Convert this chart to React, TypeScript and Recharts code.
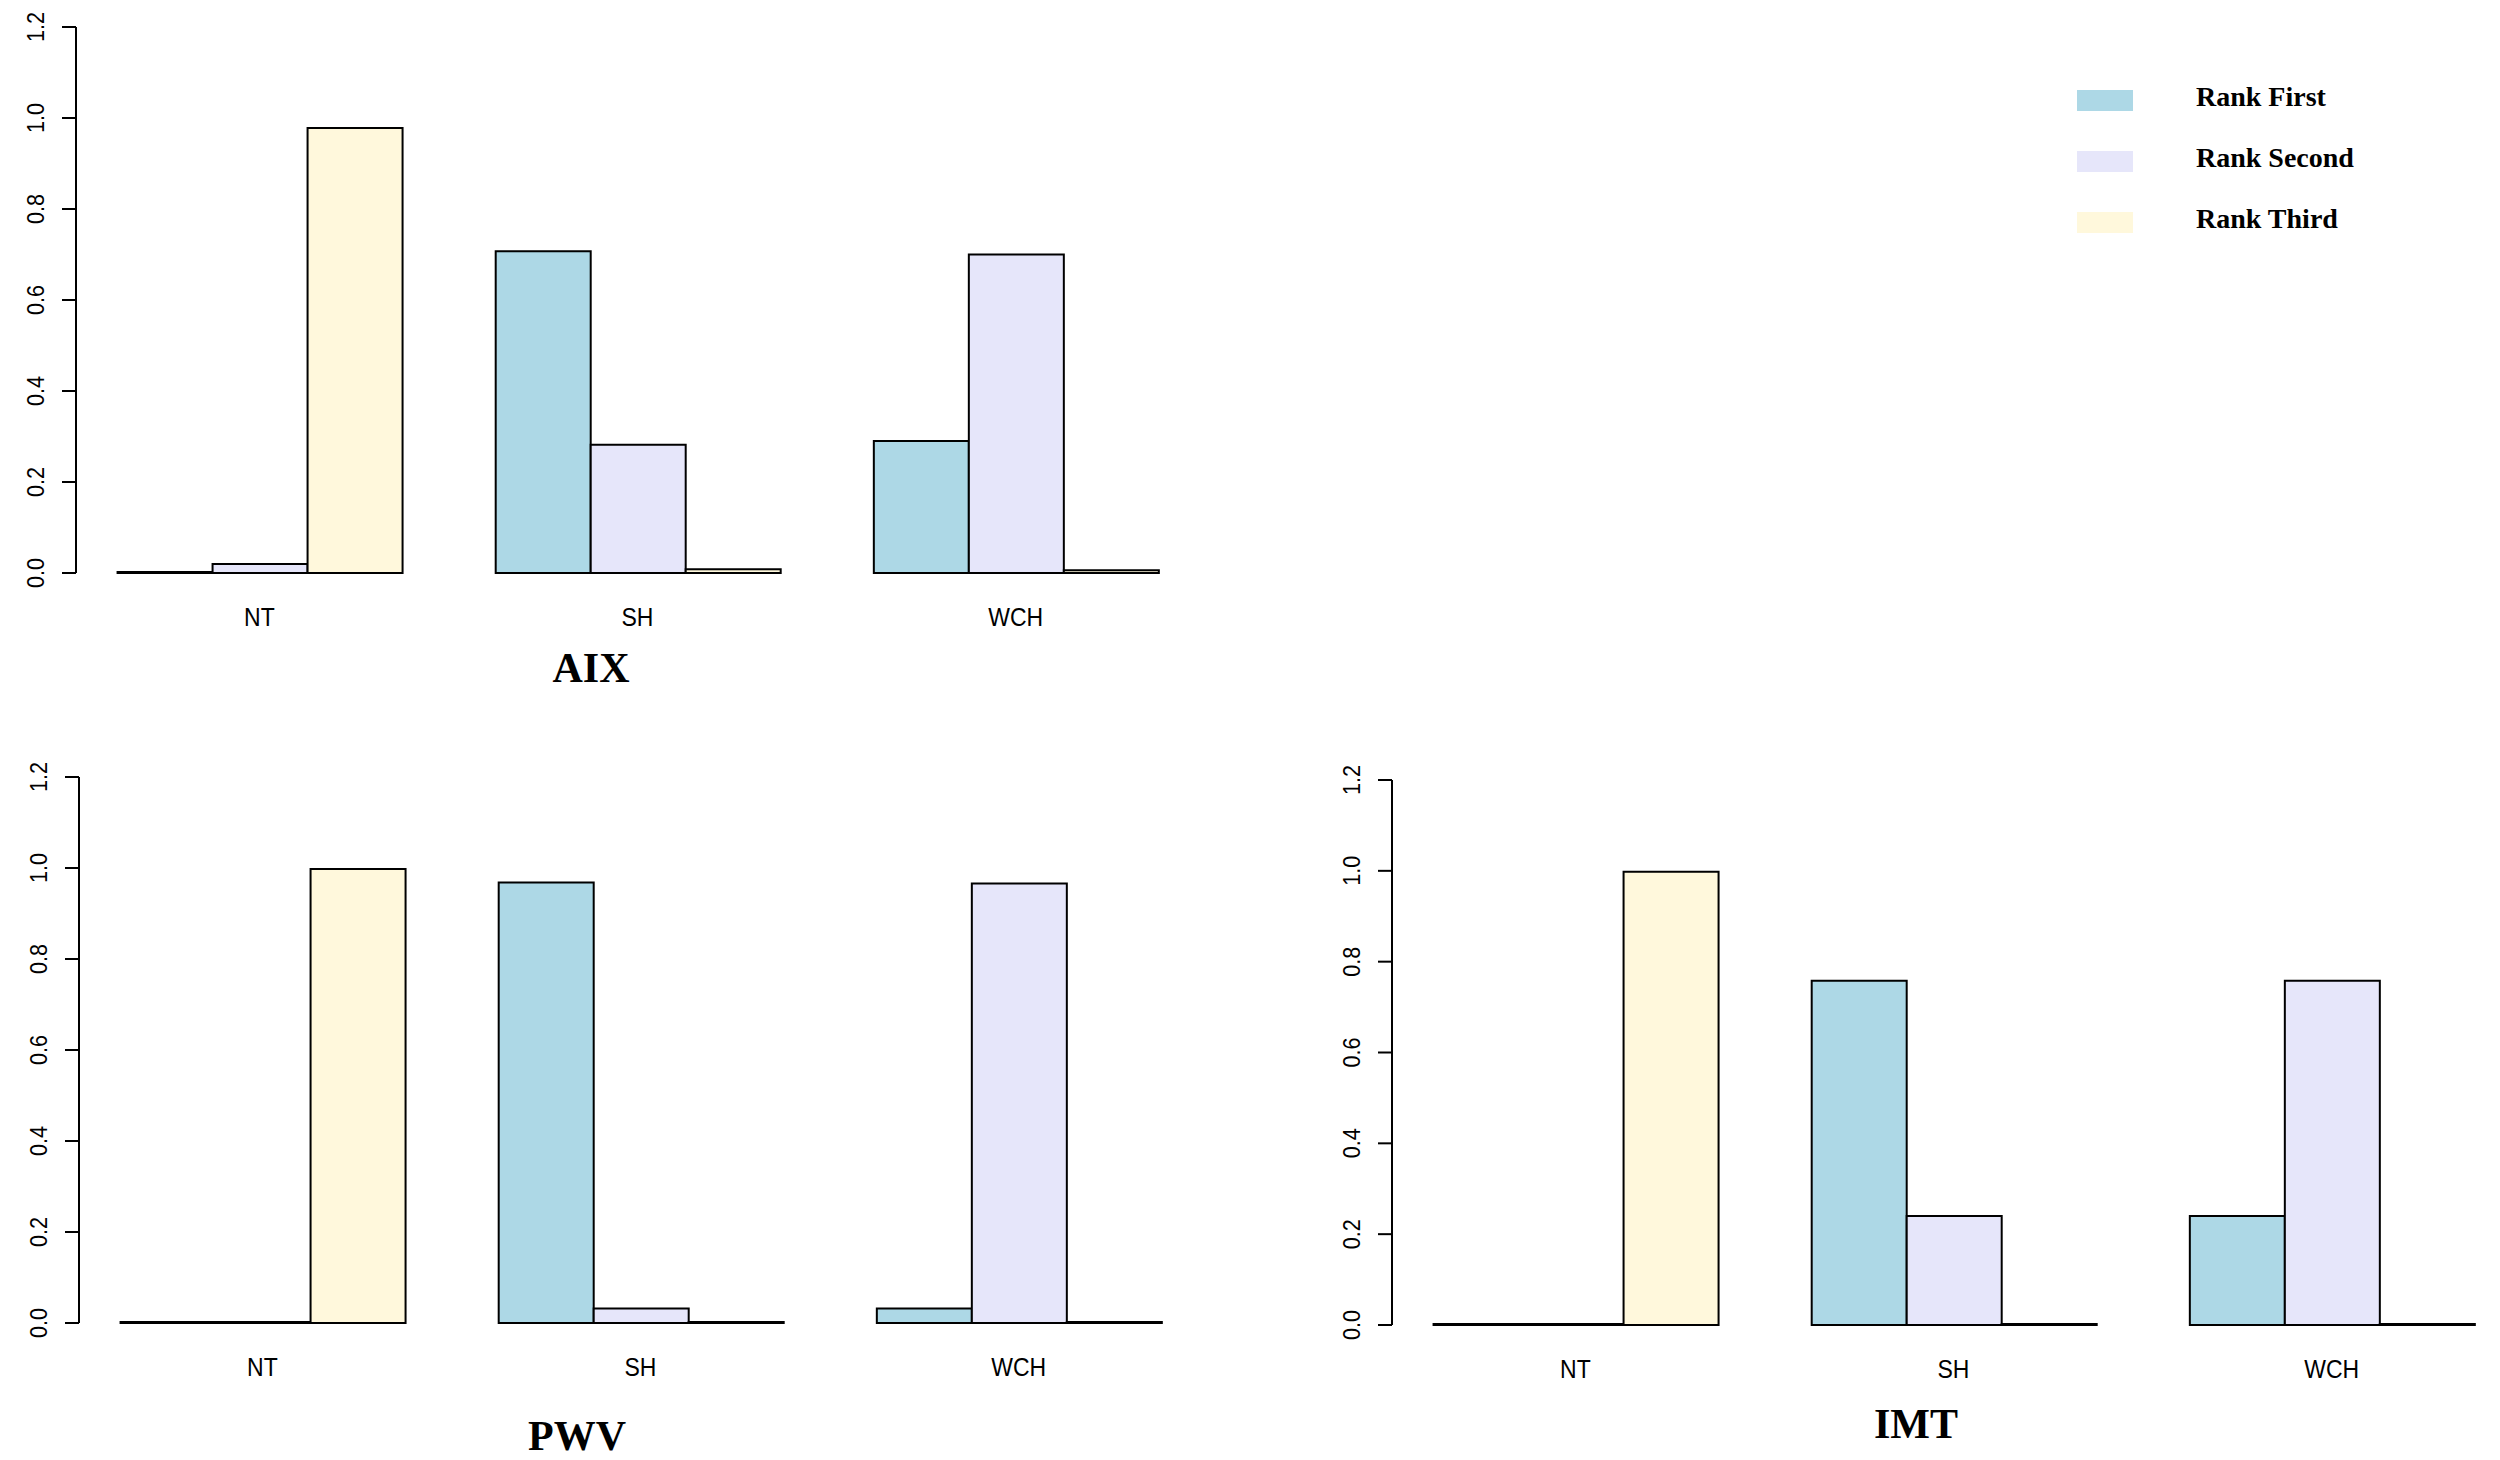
import React from 'react';
import { BarChart, Bar, XAxis, YAxis, Legend } from 'recharts';

// ---- data ----
const categories = ['NT', 'SH', 'WCH'];
const yTicks = [0, 0.2, 0.4, 0.6, 0.8, 1.0, 1.2];
const seriesNames = ['Rank First', 'Rank Second', 'Rank Third'];
const seriesColors = ['#ADD8E6', '#E6E6FA', '#FFF8DC'];

const aixFirst = [0, 0.707, 0.29];
const aixSecond = [0.02, 0.282, 0.7];
const aixThird = [0.978, 0.008, 0.006];

const pwvFirst = [0, 0.968, 0.032];
const pwvSecond = [0.002, 0.032, 0.966];
const pwvThird = [0.998, 0, 0.002];

const imtFirst = [0, 0.758, 0.24];
const imtSecond = [0.002, 0.24, 0.758];
const imtThird = [0.998, 0, 0.002];

const build = (a: number[], b: number[], c: number[]) =>
  categories.map((cat, i) => ({ category: cat, first: a[i], second: b[i], third: c[i] }));

const aixData = build(aixFirst, aixSecond, aixThird);
const pwvData = build(pwvFirst, pwvSecond, pwvThird);
const imtData = build(imtFirst, imtSecond, imtThird);

const SANS = '"Liberation Sans", Arial, sans-serif';
const SERIF = '"Liberation Serif", "Times New Roman", serif';

const YTick = (props: any) => {
  const { x, y, payload } = props;
  return (
    <g transform={`translate(${x} ${y}) rotate(-90) scale(0.9 1)`}>
      <text x={0} y={0} textAnchor="middle" fontSize={24} fontFamily={SANS} fill="#000">
        {Number(payload.value).toFixed(1)}
      </text>
    </g>
  );
};

const XTick = (props: any) => {
  const { x, y, payload } = props;
  return (
    <g transform={`translate(${x} ${y + 53}) scale(0.92 1)`}>
      <text x={0} y={0} textAnchor="middle" fontSize={25} fontFamily={SANS} fill="#000">
        {payload.value}
      </text>
    </g>
  );
};

const LegendContent = (props: any) => {
  const { payload } = props;
  return (
    <div style={{ position: 'relative', width: 420, height: 200 }}>
      {(payload || []).map((entry: any, i: number) => (
        <div key={entry.value} style={{ position: 'absolute', left: 0, top: i * 61, width: 420, height: 30 }}>
          <div
            style={{
              position: 'absolute',
              left: 0,
              top: 0,
              width: 56,
              height: 21,
              background: entry.color,
            }}
          />
          <span
            style={{
              position: 'absolute',
              left: 119,
              top: -7,
              fontFamily: SERIF,
              fontWeight: 'bold',
              fontSize: 28,
              lineHeight: '28px',
              whiteSpace: 'nowrap',
              color: '#000',
            }}
          >
            {entry.value}
          </span>
        </div>
      ))}
    </div>
  );
};

type PanelProps = {
  data: any[];
  width: number;
  height: number;
  marginTop: number;
  marginRight: number;
  yAxisWidth: number;
  xAxisHeight: number;
  bandPad: number;
  withLegend?: boolean;
};

const Panel = ({ data, width, height, marginTop, marginRight, yAxisWidth, xAxisHeight, bandPad, withLegend }: PanelProps) => (
  <BarChart
    width={width}
    height={height}
    data={data}
    margin={{ top: marginTop, right: marginRight, bottom: 0, left: 0 }}
    barGap={0}
    barCategoryGap="12.5%"
  >
    <XAxis
      dataKey="category"
      axisLine={false}
      tickLine={false}
      tickSize={0}
      tickMargin={0}
      height={xAxisHeight}
      padding={{ left: -bandPad, right: -bandPad }}
      tick={(p: any) => <XTick {...p} />}
      interval={0}
    />
    <YAxis
      type="number"
      domain={[0, 1.2]}
      ticks={yTicks}
      interval={0}
      width={yAxisWidth}
      axisLine={{ stroke: '#000', strokeWidth: 2 }}
      tickLine={{ stroke: '#000', strokeWidth: 2 }}
      tickSize={14}
      tickMargin={18}
      tick={(p: any) => <YTick {...p} />}
    />
    {withLegend && (
      <Legend
        layout="vertical"
        align="center"
        verticalAlign="middle"
        wrapperStyle={{ position: 'absolute', left: 2077, top: 90, width: 420, height: 200 }}
        content={(p: any) => <LegendContent {...p} />}
      />
    )}
    <Bar dataKey="first" name={seriesNames[0]} fill={seriesColors[0]} stroke="#000" strokeWidth={2} minPointSize={1} isAnimationActive={false} />
    <Bar dataKey="second" name={seriesNames[1]} fill={seriesColors[1]} stroke="#000" strokeWidth={2} minPointSize={1} isAnimationActive={false} />
    <Bar dataKey="third" name={seriesNames[2]} fill={seriesColors[2]} stroke="#000" strokeWidth={2} minPointSize={1} isAnimationActive={false} />
  </BarChart>
);

const titleStyle = { fontFamily: SERIF, fontWeight: 'bold' as const, fontSize: 42 };

export default function App() {
  return (
    <div style={{ position: 'relative', width: 2500, height: 1460, overflow: 'hidden', background: '#fff' }}>
      <style>{'body{margin:0;background:#fff;}'}</style>
      <div style={{ position: 'absolute', left: 0, top: 0 }}>
        <Panel
          data={aixData}
          width={2500}
          height={700}
          marginTop={27}
          marginRight={2500 - 1199}
          yAxisWidth={76}
          xAxisHeight={127}
          bandPad={5.7}
          withLegend
        />
      </div>
      <div style={{ position: 'absolute', left: 0, top: 740 }}>
        <Panel
          data={pwvData}
          width={1202}
          height={720}
          marginTop={37}
          marginRight={0}
          yAxisWidth={79}
          xAxisHeight={137}
          bandPad={5.7}
        />
      </div>
      <div style={{ position: 'absolute', left: 1313, top: 740 }}>
        <Panel
          data={imtData}
          width={1202}
          height={720}
          marginTop={40}
          marginRight={0}
          yAxisWidth={79}
          xAxisHeight={135}
          bandPad={5.7}
        />
      </div>
      <svg width={2500} height={1460} style={{ position: 'absolute', left: 0, top: 0, pointerEvents: 'none' }}>
        <text x={591} y={682} textAnchor="middle" {...titleStyle}>AIX</text>
        <text x={577} y={1450} textAnchor="middle" {...titleStyle}>PWV</text>
        <text x={1916} y={1438} textAnchor="middle" {...titleStyle}>IMT</text>
      </svg>
    </div>
  );
}
